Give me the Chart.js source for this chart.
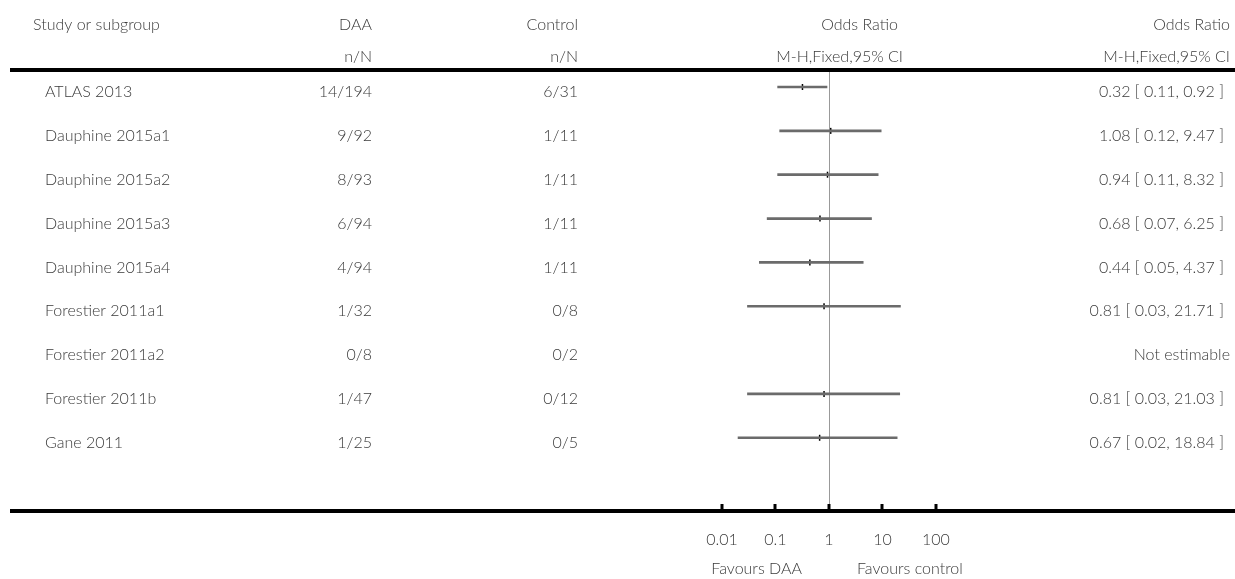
<!DOCTYPE html>
<html>
<head>
<meta charset="utf-8">
<title>Forest plot</title>
<script src="https://cdn.jsdelivr.net/npm/chart.js@4/dist/chart.umd.min.js"></script>
<style>
  html, body { margin: 0; padding: 0; background: #fff; }
</style>
</head>
<body>
<canvas id="forest" width="1235" height="579"></canvas>
<script>
// data
var studies = ['ATLAS 2013', 'Dauphine 2015a1', 'Dauphine 2015a2', 'Dauphine 2015a3', 'Dauphine 2015a4',
  'Forestier 2011a1', 'Forestier 2011a2', 'Forestier 2011b', 'Gane 2011'];
var daaEvents = ['14/194', '9/92', '8/93', '6/94', '4/94', '1/32', '0/8', '1/47', '1/25'];
var controlEvents = ['6/31', '1/11', '1/11', '1/11', '1/11', '0/8', '0/2', '0/12', '0/5'];
var oddsRatio = [0.32, 1.08, 0.94, 0.68, 0.44, 0.81, null, 0.81, 0.67];
var ciLow = [0.11, 0.12, 0.11, 0.07, 0.05, 0.03, null, 0.03, 0.02];
var ciHigh = [0.92, 9.47, 8.32, 6.25, 4.37, 21.71, null, 21.03, 18.84];
var tickValues = [0.01, 0.1, 1, 10, 100];
var tickLabels = ['0.01', '0.1', '1', '10', '100'];

var FONT = 'Lato';
var TEXT = '#3a3a3a';

function orText(i) {
  if (oddsRatio[i] === null) return 'Not estimable';
  return oddsRatio[i].toFixed(2) + ' [ ' + ciLow[i].toFixed(2) + ', ' + ciHigh[i].toFixed(2) + ' ]';
}

var ciData = [];
var pointData = [];
for (var i = 0; i < studies.length; i++) {
  if (oddsRatio[i] === null) continue;
  ciData.push({ y: i, x: [ciLow[i], ciHigh[i]] });
  pointData.push({ y: i, x: oddsRatio[i] });
}

// table text, rules, axis ticks
var forestPlugin = {
  id: 'forestTable',
  beforeDatasetsDraw: function (chart) {
    var ctx = chart.ctx, area = chart.chartArea, xs = chart.scales.x;
    var x1 = Math.round(xs.getPixelForValue(1)) + 0.5;
    ctx.save();
    ctx.strokeStyle = '#999';
    ctx.lineWidth = 1;
    ctx.beginPath();
    ctx.moveTo(x1, area.top);
    ctx.lineTo(x1, area.bottom);
    ctx.stroke();
    ctx.restore();
  },
  afterDraw: function (chart) {
    var ctx = chart.ctx, area = chart.chartArea, xs = chart.scales.x, ys = chart.scales.y;
    ctx.save();
    // top rule
    ctx.strokeStyle = '#000';
    ctx.lineWidth = 4;
    ctx.beginPath();
    ctx.moveTo(area.left - 2, area.top);
    ctx.lineTo(chart.width, area.top);
    ctx.stroke();
    // tick marks pointing up
    ctx.lineWidth = 3;
    tickValues.forEach(function (v) {
      var px = Math.round(xs.getPixelForValue(v));
      ctx.beginPath();
      ctx.moveTo(px, area.bottom - 7);
      ctx.lineTo(px, area.bottom);
      ctx.stroke();
    });

    ctx.fillStyle = TEXT;
    ctx.font = '300 16px ' + FONT;
    ctx.textBaseline = 'middle';

    // headers
    ctx.textAlign = 'left';
    ctx.fillText('Study or subgroup', 33, 25);
    ctx.textAlign = 'right';
    ctx.fillText('DAA', 372, 25);
    ctx.fillText('n/N', 372, 57);
    ctx.fillText('Control', 578, 25);
    ctx.fillText('n/N', 578, 57);
    ctx.fillText('Odds Ratio', 898, 25);
    ctx.fillText('M-H,Fixed,95% CI', 903, 57);
    ctx.fillText('Odds Ratio', 1230, 25);
    ctx.fillText('M-H,Fixed,95% CI', 1230, 57);

    // rows
    for (var i = 0; i < studies.length; i++) {
      var y = ys.getPixelForValue(i) + 5;
      ctx.textAlign = 'left';
      ctx.fillText(studies[i], 45, y);
      ctx.textAlign = 'right';
      ctx.fillText(daaEvents[i], 372, y);
      ctx.fillText(controlEvents[i], 578, y);
      ctx.fillText(orText(i), oddsRatio[i] === null ? 1230 : 1224, y);
    }

    // favours labels
    var one = xs.getPixelForValue(1);
    ctx.textAlign = 'right';
    ctx.fillText('Favours DAA', one - 27, 569);
    ctx.textAlign = 'left';
    ctx.fillText('Favours control', one + 28, 569);
    ctx.restore();
  }
};

var ctx = document.getElementById('forest');
var chart = new Chart(ctx, {
  type: 'bar',
  data: {
    datasets: [
      {
        label: 'CI',
        data: ciData,
        backgroundColor: '#6b6b6b',
        borderWidth: 0,
        barThickness: 2
      },
      {
        type: 'scatter',
        label: 'OR',
        data: pointData,
        pointStyle: 'line',
        rotation: 90,
        radius: 3,
        borderColor: '#000',
        borderWidth: 1.5
      }
    ]
  },
  options: {
    responsive: false,
    animation: false,
    indexAxis: 'y',
    layout: { autoPadding: false, padding: { top: 70, left: 12, right: 0, bottom: 0 } },
    plugins: { legend: { display: false }, tooltip: { enabled: false } },
    scales: {
      x: {
        type: 'logarithmic',
        position: 'bottom',
        min: Math.pow(10, -15.27),
        max: Math.pow(10, 7.59),
        grid: { display: false, drawTicks: false },
        border: { display: true, color: '#000', width: 4 },
        afterBuildTicks: function (axis) {
          axis.ticks = tickValues.map(function (v) { return { value: v }; });
        },
        afterFit: function (axis) {
          axis.height = 68;
          axis.paddingLeft = 0;
          axis.paddingRight = 0;
        },
        ticks: {
          autoSkip: false,
          maxRotation: 0,
          padding: 19,
          color: TEXT,
          font: { family: FONT, size: 16, weight: '300' },
          callback: function (value) {
            var k = tickValues.indexOf(value);
            return k >= 0 ? tickLabels[k] : '';
          }
        }
      },
      y: {
        type: 'linear',
        reverse: true,
        offset: false,
        min: -0.388,
        max: 9.67,
        display: false
      }
    }
  },
  plugins: [forestPlugin]
});
</script>
</body>
</html>
